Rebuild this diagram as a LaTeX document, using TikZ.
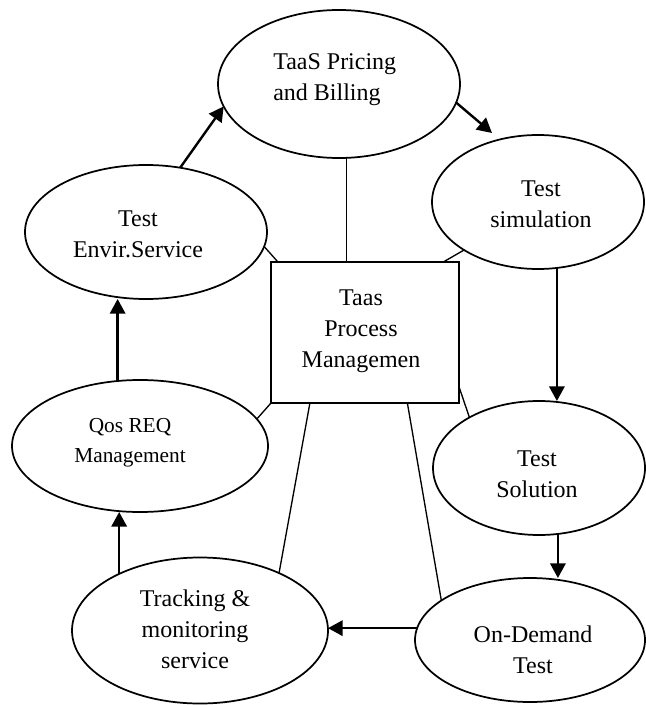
\documentclass[tikz,border=0pt]{standalone}
\usepackage{fontspec}
\setmainfont{Liberation Serif}
\usetikzlibrary{arrows.meta,shapes.geometric,calc}
\begin{document}
\begin{tikzpicture}[x=0.75pt,y=-0.75pt,
  oval/.style={draw,ellipse,line width=1.3pt,inner sep=0pt,outer sep=0pt},
  box/.style={draw,rectangle,line width=1.4pt,inner sep=0pt,outer sep=0pt},
  lbl/.style={align=center,anchor=base,inner sep=0pt,font=\fontsize{18pt}{23.25pt}\selectfont},
  link/.style={line width=1pt},
  flow/.style={line width=1.8pt,-{Triangle[length=11pt,width=11.5pt]}}]
\useasboundingbox (0,0) rectangle (645,705);
% shapes
\node[oval,minimum width=181.5pt,minimum height=111pt] (E1) at (339,84) {};
\node[oval,minimum width=181.5pt,minimum height=100.5pt] (E2) at (146,232) {};
\node[oval,minimum width=159pt,minimum height=100.5pt] (E3) at (538,202) {};
\node[oval,minimum width=192pt,minimum height=99pt] (E4) at (140,446) {};
\node[oval,minimum width=159pt,minimum height=100.5pt] (E5) at (539,468) {};
\node[oval,minimum width=172.5pt,minimum height=93pt] (E6) at (530,640) {};
\node[oval,minimum width=192pt,minimum height=109.5pt] (E7) at (200,630.5) {};
\node[box,minimum width=141pt,minimum height=105.75pt] (R) at (365,332.5) {};
% texts (anchor base = baseline of the last line)
\node[lbl,align=left,anchor=base west] (t1) at (273,101) {TaaS Pricing\\and Billing};
\node[lbl] (t2) at (138,258) {Test\\Envir.Service};
\node[lbl] (t3) at (541,228) {Test\\simulation};
\node[lbl] (t4) at (361,367) {Taas\\Process\\Managemen};
\node[lbl,font=\fontsize{16pt}{22pt}\selectfont] (t5) at (130,462) {Qos REQ\\Management};
\node[lbl] (t6) at (537,497) {Test\\Solution};
\node[lbl] (t7) at (533,673) {On-Demand\\Test};
\node[lbl] (t8) at (195,668) {Tracking \&\\monitoring\\service};
% free end
\coordinate (a13) at (492,133);
% flow arrows
\draw[flow] (E2.62) -- (E1.191);
\draw[flow] (E1.-9) -- (a13);
\draw[flow] (E3.-74) -- (E3.-74 |- E5.north);
\draw[flow] (E5.-74.7) -- (E5.-74.7 |- E6.north);
\draw[flow] (E6.174) -- (E6.174 -| E7.east);
\draw[flow] (E7.145) -- (E7.145 |- E4.south);
\draw[flow] (E4.109) -- (E4.109 |- E2.south);
% links to the process box
\draw[link] (E1.-84.6) -- (E1.-84.6 |- R.north);
\draw[link] (E2.-7.7) -- (R.141.9);
\draw[link] (E3.213.3) -- (R.42.1);
\draw[link] (E5.144.1) -- (R.-30.1);
\draw[link] (E4.13.3) -- (R.south west);
\draw[link] (R.232) -- (E7.36.7);
\draw[link] (R.-59.2) -- (E6.156.4);
\end{tikzpicture}
\end{document}
